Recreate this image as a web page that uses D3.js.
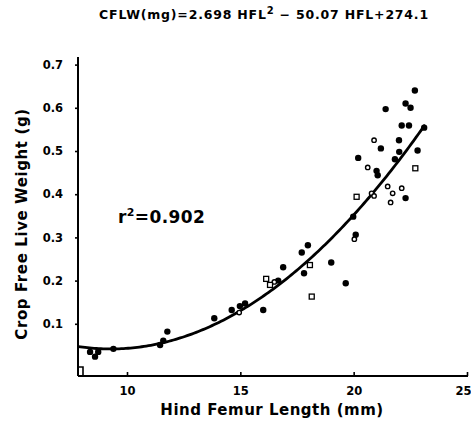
<!DOCTYPE html>
<html>
<head>
<meta charset="utf-8">
<script src="https://cdn.jsdelivr.net/npm/d3@7"></script>
<style>
  html, body { margin: 0; padding: 0; background: #fff; }
  svg { display: block; }
  text { font-family: "DejaVu Sans", "Liberation Sans", sans-serif; font-weight: bold; fill: #000; }
</style>
</head>
<body>
<script>
// ---- data ----
const filledX = [22.70, 22.29, 22.51, 21.41, 22.12, 22.44, 23.11, 22.00, 21.20, 22.82, 22.01, 21.82, 20.20, 21.01, 21.06, 22.29, 19.98, 20.09, 17.98, 17.71, 17.81, 19.01, 19.65, 16.89, 16.67, 16.01, 15.21, 14.98, 14.62, 13.85, 11.78, 11.46, 11.60, 9.40, 8.59, 8.73, 8.37];
const filledY = [0.640, 0.610, 0.600, 0.597, 0.559, 0.559, 0.554, 0.525, 0.506, 0.501, 0.498, 0.481, 0.484, 0.454, 0.444, 0.391, 0.348, 0.306, 0.282, 0.265, 0.217, 0.242, 0.194, 0.231, 0.200, 0.132, 0.147, 0.141, 0.132, 0.113, 0.082, 0.051, 0.061, 0.042, 0.024, 0.035, 0.035];
const openCircleX = [20.90, 20.62, 21.50, 21.72, 22.12, 21.63, 20.79, 20.90, 20.03, 16.50, 14.95];
const openCircleY = [0.525, 0.462, 0.418, 0.402, 0.414, 0.381, 0.402, 0.396, 0.296, 0.197, 0.126];
const openSquareX = [22.72, 20.13, 18.07, 18.15, 16.14, 16.31];
const openSquareY = [0.460, 0.394, 0.236, 0.163, 0.204, 0.190];
// regression: CFLW(mg) = a*HFL^2 + b*HFL + c
const fitCoef = [2.698, -50.07, 274.1];
const fitRange = [7.85, 23.2];
const xTicks = [10, 15, 20, 25];
const yTicks = [0.1, 0.2, 0.3, 0.4, 0.5, 0.6, 0.7];

// ---- drawing ----
const W = 471, H = 421;
const svg = d3.select("body").append("svg").attr("width", W).attr("height", H);

const axisLeftX = 78, axisBottomY = 376, axisTopY = 57, axisRightX = 468;
const x = d3.scaleLinear().domain([10, 25]).range([127, 467]);
const y = d3.scaleLinear().domain([0, 0.7]).range([367, 64.6]);

// y axis
const yAxis = d3.axisLeft(y).tickValues(yTicks).tickFormat(d3.format(".1f")).tickSize(3).tickPadding(12);
const gy = svg.append("g").attr("transform", `translate(${axisLeftX},0)`).call(yAxis);
gy.select(".domain").remove();
gy.selectAll(".tick line").attr("stroke", "#000").attr("stroke-width", 1.6);
gy.selectAll(".tick text").style("font-size", "11.5px").attr("font-family", null);
svg.append("line").attr("x1", axisLeftX).attr("x2", axisLeftX).attr("y1", axisTopY).attr("y2", axisBottomY)
  .attr("stroke", "#000").attr("stroke-width", 2);

// x axis
const xAxis = d3.axisBottom(x).tickValues(xTicks).tickFormat(d3.format("d")).tickSize(-4).tickPadding(11);
const gx = svg.append("g").attr("transform", `translate(0,${axisBottomY})`).call(xAxis);
gx.select(".domain").remove();
gx.selectAll(".tick line").attr("stroke", "#000").attr("stroke-width", 1.6);
gx.selectAll(".tick text").style("font-size", "11.5px").attr("font-family", null)
  .attr("dx", d => d === 25 ? -4 : 0);
svg.append("line").attr("x1", axisLeftX).attr("x2", axisRightX).attr("y1", axisBottomY).attr("y2", axisBottomY)
  .attr("stroke", "#000").attr("stroke-width", 2);

// little zero bracket at the origin
svg.append("path")
  .attr("d", `M${axisLeftX},${y(0)}H${axisLeftX + 5}V${axisBottomY}`)
  .attr("fill", "none").attr("stroke", "#000").attr("stroke-width", 1.6);

// fitted curve
const fitFn = v => (fitCoef[0] * v * v + fitCoef[1] * v + fitCoef[2]) / 1000;
const curveXs = d3.range(fitRange[0], fitRange[1] + 0.001, 0.1);
svg.append("path")
  .datum(curveXs)
  .attr("d", d3.line().x(d => x(d)).y(d => y(fitFn(d))))
  .attr("fill", "none").attr("stroke", "#000").attr("stroke-width", 2.8);

// points
const filled = filledX.map((v, i) => [v, filledY[i]]);
const openC = openCircleX.map((v, i) => [v, openCircleY[i]]);
const openS = openSquareX.map((v, i) => [v, openSquareY[i]]);

svg.append("g").selectAll("circle").data(filled).join("circle")
  .attr("cx", d => x(d[0])).attr("cy", d => y(d[1])).attr("r", 3.2).attr("fill", "#000");
svg.append("g").selectAll("circle").data(openC).join("circle")
  .attr("cx", d => x(d[0])).attr("cy", d => y(d[1])).attr("r", 2.2)
  .attr("fill", "#fff").attr("stroke", "#000").attr("stroke-width", 1.4);
svg.append("g").selectAll("rect").data(openS).join("rect")
  .attr("x", d => x(d[0]) - 2.5).attr("y", d => y(d[1]) - 2.5).attr("width", 5).attr("height", 5)
  .attr("fill", "#fff").attr("stroke", "#000").attr("stroke-width", 1.3);

// texts
const title = svg.append("text").attr("x", 264).attr("y", 19).attr("text-anchor", "middle")
  .style("font-size", "12.5px").style("letter-spacing", "0.8px");
title.append("tspan").text("CFLW(mg)=2.698 HFL");
title.append("tspan").attr("dy", -5).style("font-size", "10px").text("2");
title.append("tspan").attr("dy", 5).text(" \u2212 50.07 HFL+274.1");

const r2 = svg.append("text").attr("x", 118).attr("y", 223).style("font-size", "17px").style("letter-spacing", "0.4px");
r2.append("tspan").text("r");
r2.append("tspan").attr("dy", -7).style("font-size", "11px").text("2");
r2.append("tspan").attr("dy", 7).text("=0.902");

svg.append("text").attr("x", 272).attr("y", 415).attr("text-anchor", "middle")
  .style("font-size", "15px").style("letter-spacing", "0.5px")
  .text("Hind Femur Length (mm)");
svg.append("text").attr("transform", "translate(27,224) rotate(-90)").attr("text-anchor", "middle")
  .style("font-size", "15px").style("letter-spacing", "0.6px")
  .text("Crop Free Live Weight (g)");
</script>
</body>
</html>
